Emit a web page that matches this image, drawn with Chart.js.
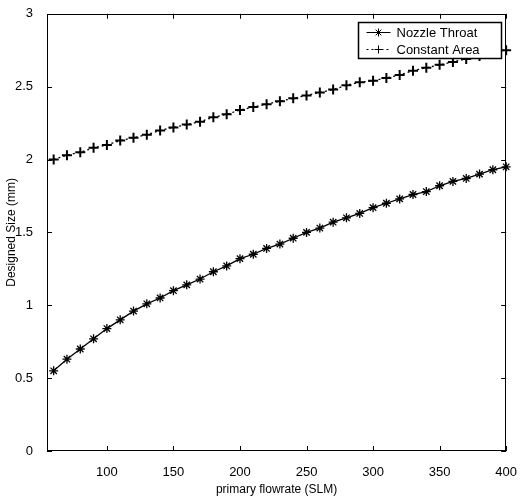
<!DOCTYPE html>
<html>
<head>
<meta charset="utf-8">
<script src="https://cdn.jsdelivr.net/npm/chart.js@4.4.1/dist/chart.umd.min.js"></script>
<style>
  html, body { margin: 0; padding: 0; background: #fff; }
  #wrap { width: 523px; height: 497px; }
</style>
</head>
<body>
<div id="wrap"><canvas id="myChart" width="523" height="497"></canvas></div>
<script>
// primary flowrate (SLM)
const flowrate = [60, 70, 80, 90, 100, 110, 120, 130, 140, 150, 160, 170, 180, 190, 200,
  210, 220, 230, 240, 250, 260, 270, 280, 290, 300, 310, 320, 330, 340, 350,
  360, 370, 380, 390, 400];
const nozzleThroat = [0.55, 0.63, 0.70, 0.77, 0.84, 0.90, 0.96, 1.01, 1.05, 1.10, 1.14, 1.18, 1.23, 1.27, 1.32,
  1.35, 1.39, 1.42, 1.46, 1.50, 1.53, 1.57, 1.60, 1.63, 1.67, 1.70, 1.73, 1.76, 1.78, 1.82,
  1.85, 1.87, 1.90, 1.93, 1.95];
const constantArea = [2.00, 2.03, 2.05, 2.08, 2.10, 2.13, 2.15, 2.17, 2.20, 2.22, 2.24, 2.26, 2.29, 2.31, 2.34,
  2.36, 2.38, 2.40, 2.42, 2.44, 2.46, 2.48, 2.51, 2.53, 2.54, 2.56, 2.58, 2.61, 2.63, 2.65,
  2.67, 2.69, 2.71, 2.73, 2.75];
const xTicks = [100, 150, 200, 250, 300, 350, 400];
const yTicks = [0, 0.5, 1, 1.5, 2, 2.5, 3];

const FONT = '"Liberation Sans", Arial, sans-serif';

// MATLAB-ish box, inward ticks and an in-axes legend
const framePlugin = {
  id: 'frame',
  afterDatasetsDraw(chart) {
    const { ctx, chartArea: a, scales } = chart;
    const sx = scales.x, sy = scales.y;
    ctx.save();
    ctx.strokeStyle = '#000';
    ctx.lineWidth = 1;
    ctx.strokeRect(Math.round(a.left) + 0.5, Math.round(a.top) + 0.5,
      Math.round(a.width) - 1, Math.round(a.height) - 1);
    ctx.beginPath();
    xTicks.forEach(v => {
      const px = Math.round(sx.getPixelForValue(v)) + 0.5;
      ctx.moveTo(px, a.bottom); ctx.lineTo(px, a.bottom - 5);
      ctx.moveTo(px, a.top); ctx.lineTo(px, a.top + 5);
    });
    yTicks.forEach(v => {
      const py = Math.round(sy.getPixelForValue(v)) + 0.5;
      ctx.moveTo(a.left, py); ctx.lineTo(a.left + 5, py);
      ctx.moveTo(a.right, py); ctx.lineTo(a.right - 5, py);
    });
    ctx.stroke();

    // legend
    const bx = Math.round(a.right) - 147.5, by = Math.round(a.top) + 8.5, bw = 143, bh = 36;
    ctx.fillStyle = '#fff';
    ctx.fillRect(bx, by, bw, bh);
    ctx.lineWidth = 1.5;
    ctx.strokeRect(bx, by, bw, bh);
    ctx.lineWidth = 1;
    ctx.font = '13px ' + FONT;
    ctx.textBaseline = 'middle';
    ctx.textAlign = 'left';
    chart.data.datasets.forEach((ds, i) => {
      const ly = by + 10 + i * 17;
      ctx.strokeStyle = '#000';
      ctx.setLineDash(ds.borderDash || []);
      ctx.beginPath();
      ctx.moveTo(bx + 8, ly); ctx.lineTo(bx + 32, ly);
      ctx.stroke();
      ctx.setLineDash([]);
      Chart.helpers.drawPoint(ctx, { pointStyle: ds.pointStyle, radius: 4, rotation: 0, borderWidth: 1.3 }, bx + 20, ly);
      ctx.fillStyle = '#000';
      ctx.fillText(ds.label, bx + 38, ly + 1);
    });
    ctx.restore();
  }
};

const ctx = document.getElementById('myChart').getContext('2d');
const myChart = new Chart(ctx, {
  type: 'line',
  data: {
    labels: flowrate,
    datasets: [
      {
        label: 'Nozzle Throat',
        data: flowrate.map((f, i) => ({ x: f, y: nozzleThroat[i] })),
        borderColor: '#000',
        backgroundColor: '#000',
        borderWidth: 1.3,
        pointStyle: 'star',
        pointRadius: 4.5,
        pointBorderWidth: 1.3,
        tension: 0,
        clip: false
      },
      {
        label: 'Constant Area',
        data: flowrate.map((f, i) => ({ x: f, y: constantArea[i] })),
        borderColor: '#000',
        backgroundColor: '#000',
        borderWidth: 1.3,
        borderDash: [2, 3],
        pointStyle: 'cross',
        pointRadius: 5,
        pointBorderWidth: 2,
        tension: 0,
        clip: false
      }
    ]
  },
  options: {
    responsive: false,
    animation: false,
    layout: { padding: { left: 0, right: 9, top: 12, bottom: 0 } },
    plugins: { legend: { display: false }, tooltip: { enabled: false } },
    scales: {
      x: {
        type: 'linear',
        min: 55,
        max: 400,
        afterBuildTicks: s => { s.ticks = xTicks.map(v => ({ value: v })); },
        afterFit: s => { s.height = 46; },
        grid: { display: false },
        border: { display: false },
        ticks: { color: '#000', font: { family: FONT, size: 13 }, padding: 6, maxRotation: 0 },
        title: { display: true, text: 'primary flowrate (SLM)', color: '#000',
          font: { family: FONT, size: 12 }, padding: { top: 0, bottom: 0 } }
      },
      y: {
        min: 0,
        max: 3,
        afterBuildTicks: s => { s.ticks = yTicks.map(v => ({ value: v })); },
        afterFit: s => { s.width = 47; },
        grid: { display: false },
        border: { display: false },
        ticks: { color: '#000', font: { family: FONT, size: 13 }, padding: 6,
          callback: v => String(v) },
        title: { display: true, text: 'Designed Size (mm)', color: '#000',
          font: { family: FONT, size: 12 }, padding: { top: 4, bottom: 0 } }
      }
    }
  },
  plugins: [framePlugin]
});
</script>
</body>
</html>
